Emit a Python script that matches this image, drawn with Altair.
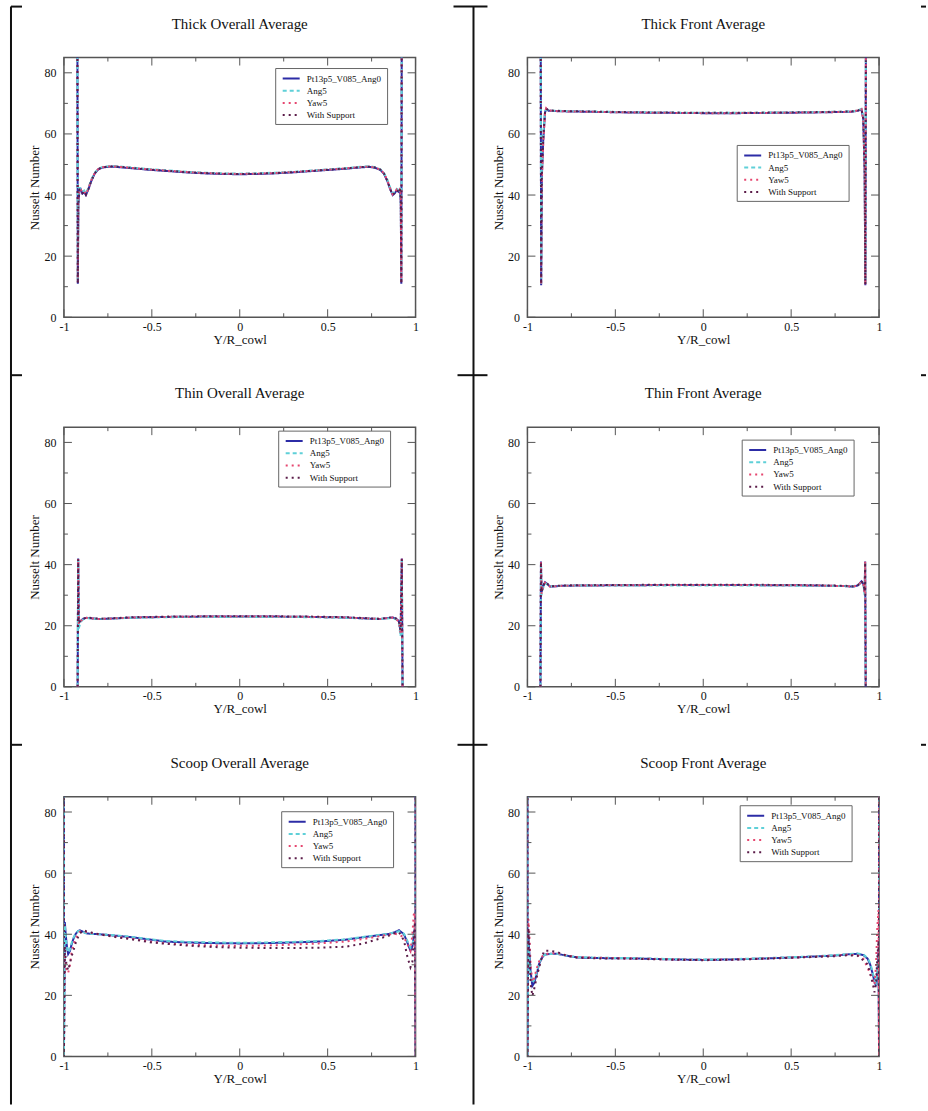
import altair as alt
import pandas as pd

# ---------------------------------------------------------------- series
SERIES = ["Pt13p5_V085_Ang0", "Ang5", "Yaw5", "With Support"]
COLORS = ["#2c2ca6", "#5fd0d8", "#e6466f", "#5b1c49"]
DASHES = [[1, 0], [4, 3], [2, 4], [2, 4]]

X_MAJOR = [-1, -0.5, 0, 0.5, 1]
X_MINOR = [-0.75, -0.25, 0.25, 0.75]
Y_MAJOR = [0, 20, 40, 60, 80]
Y_MINOR = [10, 30, 50, 70]

# ---------------------------------------------------------------- Thick Overall Average
tl_x = [-0.924, -0.921, -0.918, -0.912, -0.905, -0.895, -0.885, -0.875, -0.86, -0.845,
        -0.825, -0.805, -0.78, -0.75, -0.72, -0.6, -0.5, -0.4, -0.3, -0.2,
        -0.1, 0.0, 0.1, 0.2, 0.3, 0.4, 0.5, 0.6, 0.7, 0.74,
        0.77, 0.8, 0.82, 0.84, 0.855, 0.87, 0.88, 0.893, 0.905, 0.912,
        0.916, 0.919, 0.922]
tl_ang0 = [110, 11, 37, 41.5, 42, 40.5, 41, 40, 42, 44.5,
           47, 48.4, 49, 49.2, 49.3, 48.7, 48.2, 47.8, 47.4, 47.1,
           46.9, 46.8, 46.9, 47.1, 47.4, 47.8, 48.2, 48.6, 49.1, 49.2,
           48.9, 48.2, 47, 44.5, 42, 40, 40.5, 41.5, 41, 42,
           37, 11, 110]
tl_ang5 = [110, 12, 39, 42.5, 41.5, 41, 41.5, 40.5, 42.5, 45,
           47.3, 48.6, 49.2, 49.4, 49.5, 48.9, 48.4, 48, 47.6, 47.3,
           47.1, 47, 47.1, 47.3, 47.6, 48, 48.4, 48.8, 49.3, 49.4,
           49.1, 48.4, 47.2, 45, 42.5, 40.5, 41, 42, 41.5, 42.5,
           39, 12, 110]
tl_yaw5 = [110, 11.5, 38, 42, 41.8, 40.8, 41.2, 40.2, 42.2, 44.8,
           47.2, 48.5, 49.1, 49.3, 49.4, 48.8, 48.3, 47.9, 47.5, 47.2,
           47, 46.9, 47, 47.2, 47.5, 47.9, 48.3, 48.7, 49.2, 49.3,
           49, 48.3, 47.1, 44.8, 42.2, 40.2, 40.8, 41.8, 41.2, 42.2,
           38, 11.5, 110]
tl_support = [110, 11, 37.5, 41.8, 41.9, 40.6, 41.1, 40.1, 42.1, 44.6,
              47.1, 48.5, 49.1, 49.3, 49.4, 48.8, 48.3, 47.9, 47.5, 47.2,
              47, 46.9, 47, 47.2, 47.5, 47.9, 48.3, 48.7, 49.2, 49.3,
              49, 48.3, 47.1, 44.6, 42.1, 40.1, 40.6, 41.6, 41.1, 42.1,
              37.5, 11, 110]

# ---------------------------------------------------------------- Thick Front Average
tr_x = [-0.925, -0.922, -0.918, -0.91, -0.9, -0.893, -0.88, -0.85, -0.8, -0.6,
        -0.4, -0.2, 0.0, 0.2, 0.4, 0.6, 0.8, 0.85, 0.88, 0.9,
        0.91, 0.918, 0.922, 0.926]
tr_ang0 = [110, 10.5, 46, 58, 67, 68.2, 67.6, 67.5, 67.4, 67.2,
           67, 66.9, 66.8, 66.8, 66.9, 67, 67.2, 67.3, 67.6, 68,
           65, 48, 10.5, 110]
tr_ang5 = [110, 11, 48, 60, 67.5, 68, 67.8, 67.6, 67.5, 67.3,
           67.1, 67, 66.9, 66.9, 67, 67.1, 67.3, 67.4, 67.7, 68.2,
           66, 50, 11, 110]
tr_yaw5 = [110, 10.5, 45, 57, 66.8, 68.4, 67.7, 67.5, 67.4, 67.2,
           67, 66.9, 66.8, 66.8, 66.9, 67, 67.2, 67.3, 67.7, 68.1,
           64.5, 47, 10.5, 110]
tr_support = [110, 10.8, 46.5, 58.5, 67.2, 68.3, 67.7, 67.6, 67.5, 67.3,
              67.1, 67, 66.9, 66.9, 67, 67.1, 67.3, 67.4, 67.7, 68.1,
              65.2, 48.5, 10.8, 110]

# ---------------------------------------------------------------- Thin Overall Average
ml_x = [-0.922, -0.919, -0.916, -0.905, -0.89, -0.87, -0.84, -0.8, -0.75, -0.6,
        -0.4, -0.2, 0.0, 0.2, 0.4, 0.6, 0.75, 0.8, 0.84, 0.87,
        0.89, 0.905, 0.915, 0.922, 0.926]
ml_ang0 = [0, 42, 21, 21.6, 22.3, 22.6, 22.4, 22.2, 22.3, 22.7,
           22.9, 23, 23, 23, 22.9, 22.7, 22.3, 22.2, 22.5, 22.7,
           22.3, 21.5, 18, 42, 0]
ml_ang5 = [0, 41.5, 19, 21.2, 22.1, 22.5, 22.3, 22.2, 22.3, 22.6,
           22.8, 22.9, 22.9, 22.9, 22.8, 22.6, 22.3, 22.2, 22.4, 22.6,
           22.1, 21, 16.5, 41.5, 0]
ml_yaw5 = [0, 42, 20.5, 21.5, 22.2, 22.6, 22.4, 22.2, 22.3, 22.7,
           22.9, 23, 23, 23, 22.9, 22.7, 22.3, 22.2, 22.5, 22.7,
           22.2, 21.3, 17.5, 42, 0]
ml_support = [0, 41.8, 21, 21.7, 22.3, 22.7, 22.5, 22.3, 22.4, 22.8,
              23, 23.1, 23.1, 23.1, 23, 22.8, 22.4, 22.3, 22.6, 22.8,
              22.3, 21.5, 18.5, 41.8, 0]

# ---------------------------------------------------------------- Thin Front Average
mr_x = [-0.926, -0.923, -0.92, -0.91, -0.9, -0.89, -0.87, -0.84, -0.8, -0.6,
        -0.3, 0.0, 0.3, 0.6, 0.8, 0.85, 0.88, 0.9, 0.912, 0.918,
        0.921, 0.924]
mr_ang0 = [0, 41, 31, 33, 34.2, 33.8, 32.8, 32.9, 33.1, 33.2,
           33.3, 33.3, 33.3, 33.2, 33, 32.8, 33.2, 34.5, 33.5, 31,
           41, 0]
mr_ang5 = [0, 40.5, 30, 32.5, 33.9, 33.6, 32.9, 33, 33.1, 33.2,
           33.2, 33.2, 33.2, 33.1, 33, 32.9, 33.3, 34.2, 33, 30,
           40.5, 0]
mr_yaw5 = [0, 41, 30.5, 32.8, 34.1, 33.8, 32.8, 32.9, 33.1, 33.2,
           33.3, 33.3, 33.3, 33.2, 33, 32.8, 33.2, 34.4, 33.3, 30.5,
           41, 0]
mr_support = [0, 40.8, 31, 33.1, 34.3, 33.9, 32.9, 33, 33.2, 33.3,
              33.4, 33.4, 33.4, 33.3, 33.1, 32.9, 33.3, 34.6, 33.6, 31.2,
              40.8, 0]

# ---------------------------------------------------------------- Scoop Overall Average
bl_x = [-1.0, -1.0, -0.995, -0.99, -0.985, -0.976, -0.966, -0.958, -0.946, -0.934,
        -0.92, -0.91, -0.89, -0.873, -0.84, -0.8, -0.7, -0.61, -0.5, -0.425,
        -0.3, -0.15, 0.0, 0.15, 0.3, 0.45, 0.6, 0.7, 0.78, 0.85,
        0.88, 0.906, 0.934, 0.952, 0.971, 0.982, 0.99, 0.996, 1.0, 1.0]
bl_ang0 = [110, 0, 44, 40, 37, 33.5, 34.5, 36.3, 38.5, 40,
           41, 41.3, 40.8, 40.3, 40.1, 40, 39.5, 39, 38.2, 37.6,
           37.3, 37.1, 37, 37.1, 37.3, 37.6, 38.2, 39, 39.6, 40.1,
           40.6, 41.3, 40, 37.5, 34.6, 36, 39.6, 42, 0, 110]
bl_ang5 = [110, 0, 43, 39.5, 36.5, 34, 35, 36.8, 38.8, 40.2,
           41, 41.1, 40.7, 40.3, 40.1, 40, 39.6, 39.1, 38.3, 37.8,
           37.5, 37.3, 37.2, 37.3, 37.5, 37.8, 38.3, 39.1, 39.7, 40.2,
           40.6, 41, 40.2, 38, 35.5, 36.5, 39.5, 41, 0, 110]
bl_yaw5 = [110, 0, 33, 29.5, 28.5, 27.3, 30, 33.5, 36.5, 38.5,
           40, 40.8, 41, 40.8, 40.4, 40, 39.2, 38.5, 37.5, 37,
           36.6, 36.3, 36.2, 36.3, 36.6, 37, 37.6, 38.4, 39.2, 39.9,
           40.2, 39.8, 39, 37, 34.6, 40, 46.5, 47, 0, 110]
bl_support = [110, 0, 36, 32, 30, 28.2, 30.3, 32.5, 34.6, 37,
              39, 40.2, 41.3, 41, 40.5, 40, 39, 38.3, 37.3, 36.9,
              36.3, 35.8, 35.6, 35.5, 35.5, 35.6, 35.9, 36.9, 38.3, 39.6,
              40.3, 40.6, 38, 33, 29.2, 31, 39, 44, 0, 110]

# ---------------------------------------------------------------- Scoop Front Average
br_x = [-1.0, -1.0, -0.995, -0.99, -0.982, -0.972, -0.962, -0.953, -0.943, -0.934,
        -0.92, -0.905, -0.87, -0.828, -0.78, -0.714, -0.6, -0.41, -0.2, 0.0,
        0.2, 0.36, 0.55, 0.74, 0.82, 0.877, 0.91, 0.935, 0.95, 0.964,
        0.974, 0.983, 0.99, 0.997, 1.0, 1.0]
br_ang0 = [110, 0, 40, 34.6, 28, 23.1, 24, 25.8, 28, 30.2,
           32, 33.3, 33.6, 33.6, 33, 32.4, 32.2, 32.1, 31.8, 31.6,
           31.8, 32.1, 32.5, 33, 33.4, 33.6, 33.2, 32, 30, 27,
           24.5, 23.1, 27, 34.6, 0, 110]
br_ang5 = [110, 0, 38, 33, 27, 24, 25, 26.5, 28.5, 30.5,
           32.2, 33.2, 33.5, 33.5, 33, 32.5, 32.3, 32.2, 31.9, 31.7,
           31.9, 32.2, 32.6, 33.1, 33.5, 33.7, 33.4, 32.2, 30.5, 27.5,
           25, 24, 28, 33, 0, 110]
br_yaw5 = [110, 0, 45, 41.3, 30, 24.4, 25.5, 27.5, 29.5, 31,
           32.5, 33.4, 33.8, 33.8, 33.1, 32.5, 32.3, 32.1, 31.8, 31.6,
           31.8, 32.1, 32.5, 33, 33.3, 33.2, 32, 29, 27, 25,
           23.5, 30, 42.3, 48, 0, 110]
br_support = [110, 0, 42, 37, 24, 19.8, 22, 24.4, 27, 29,
              32, 34.6, 34.6, 34.1, 33, 32.3, 32.1, 32, 31.7, 31.5,
              31.7, 32, 32.4, 32.8, 33.1, 33, 31.5, 30.2, 27, 24,
              21, 24, 32, 38, 0, 110]

# ---------------------------------------------------------------- layout
W, H = 352, 260
FONT = "Liberation Serif"
FRAME = "#555555"
INK = "#111111"


def x_enc():
    return alt.X("x:Q", title="Y/R_cowl",
                 scale=alt.Scale(domain=[-1, 1], nice=False, zero=False),
                 axis=alt.Axis(values=X_MAJOR, labelExpr="'' + datum.value"))


def y_enc():
    return alt.Y("y:Q", title="Nusselt Number",
                 scale=alt.Scale(domain=[0, 85], nice=False, zero=False),
                 axis=alt.Axis(values=Y_MAJOR, labelExpr="'' + datum.value"))


def inward_ticks():
    """Grace-style ticks pointing into the plot on all four sides."""
    layers = []
    for vals, ln in ((X_MAJOR, 8), (X_MINOR, 4)):
        d = pd.DataFrame({"x": vals})
        for y0, y1 in ((H, H - ln), (0, ln)):
            layers.append(alt.Chart(d).mark_rule(color=FRAME, strokeWidth=1).encode(
                x=x_enc(), y=alt.value(y0), y2=alt.value(y1)))
    for vals, ln in ((Y_MAJOR, 8), (Y_MINOR, 4)):
        d = pd.DataFrame({"y": vals})
        for x0, x1 in ((0, ln), (W, W - ln)):
            layers.append(alt.Chart(d).mark_rule(color=FRAME, strokeWidth=1).encode(
                y=y_enc(), x=alt.value(x0), x2=alt.value(x1)))
    return layers


def legend_box(lx, ly):
    one = pd.DataFrame({"series": [""]})
    layers = [alt.Chart(one).mark_rect(fill="white", stroke="#666666", strokeWidth=1).encode(
        x=alt.value(lx), x2=alt.value(lx + 112), y=alt.value(ly), y2=alt.value(ly + 56))]
    for k, name in enumerate(SERIES):
        yk = ly + 10 + 12.2 * k
        row = pd.DataFrame({"series": [name]})
        layers.append(alt.Chart(row).mark_rule(
            color=COLORS[k], strokeDash=DASHES[k], strokeWidth=2, strokeCap="butt").encode(
            x=alt.value(lx + 7), x2=alt.value(lx + 24), y=alt.value(yk)))
        layers.append(alt.Chart(row).mark_text(
            align="left", baseline="middle", font=FONT, fontSize=9, color=INK).encode(
            x=alt.value(lx + 31), y=alt.value(yk), text="series:N"))
    return layers


def heading(title):
    row = pd.DataFrame({"title": [title]})
    return alt.Chart(row).mark_text(
        align="center", baseline="middle", font=FONT, fontSize=15, color=INK).encode(
        x=alt.value(W / 2), y=alt.value(-34), text="title:N")


# table rules around the six panels, in pixels from the first panel's plot corner
TABLE_RULES = [
    (-53, -51, -53, 1048), (410, -51, 410, 1048),
    (-53, -51, -42, -51), (390, -51, 424, -51), (858, -51, 863, -51),
    (-53, 318, -42, 318), (394, 318, 424, 318), (858, 318, 863, 318),
    (-53, 688, -42, 688), (394, 688, 424, 688), (858, 688, 863, 688),
]


def table_rules():
    one = pd.DataFrame({"k": [0]})
    return [alt.Chart(one).mark_rule(color=INK, strokeWidth=2).encode(
        x=alt.value(a), y=alt.value(b), x2=alt.value(c), y2=alt.value(d))
        for a, b, c, d in TABLE_RULES]


def panel(title, xs, curves, lx, ly, with_table=False):
    rows = []
    for name, ys in zip(SERIES, curves):
        for i, (xv, yv) in enumerate(zip(xs, ys)):
            rows.append({"x": xv, "y": yv, "series": name, "i": i})
    df = pd.DataFrame(rows)
    lines = alt.Chart(df).mark_line(clip=True, strokeWidth=2, strokeCap="butt").encode(
        x=x_enc(), y=y_enc(),
        color=alt.Color("series:N", scale=alt.Scale(domain=SERIES, range=COLORS), legend=None),
        strokeDash=alt.StrokeDash("series:N", scale=alt.Scale(domain=SERIES, range=DASHES), legend=None),
        order=alt.Order("i:Q"),
    )
    layers = ((table_rules() if with_table else []) + [lines] + inward_ticks()
              + legend_box(lx, ly) + [heading(title)])
    return alt.layer(*layers).properties(width=W, height=H)


charts = [
    panel("Thick Overall Average", tl_x, [tl_ang0, tl_ang5, tl_yaw5, tl_support], 212, 11, True),
    panel("Thick Front Average", tr_x, [tr_ang0, tr_ang5, tr_yaw5, tr_support], 210, 88),
    panel("Thin Overall Average", ml_x, [ml_ang0, ml_ang5, ml_yaw5, ml_support], 215, 4),
    panel("Thin Front Average", mr_x, [mr_ang0, mr_ang5, mr_yaw5, mr_support], 215, 13),
    panel("Scoop Overall Average", bl_x, [bl_ang0, bl_ang5, bl_yaw5, bl_support], 218, 15),
    panel("Scoop Front Average", br_x, [br_ang0, br_ang5, br_yaw5, br_support], 213, 9),
]

chart = alt.concat(
    *charts, columns=2,
    spacing={"row": 110, "column": 112},
    bounds="flush",
    padding={"left": 9, "top": 4, "right": 0, "bottom": 0},
).configure_view(
    stroke=FRAME, strokeWidth=1.5
).configure_axis(
    domain=False, ticks=False, grid=False, labelFlush=False, labelOverlap=False,
    labelFont=FONT, labelFontSize=12, labelColor=INK,
    titleFont=FONT, titleFontSize=13, titleFontWeight="normal", titleColor=INK,
).configure_axisX(
    labelPadding=4, titlePadding=1
).configure_axisY(
    labelPadding=8, titlePadding=2
)

chart.save("out.html", embed_options={"renderer": "svg", "actions": False})
